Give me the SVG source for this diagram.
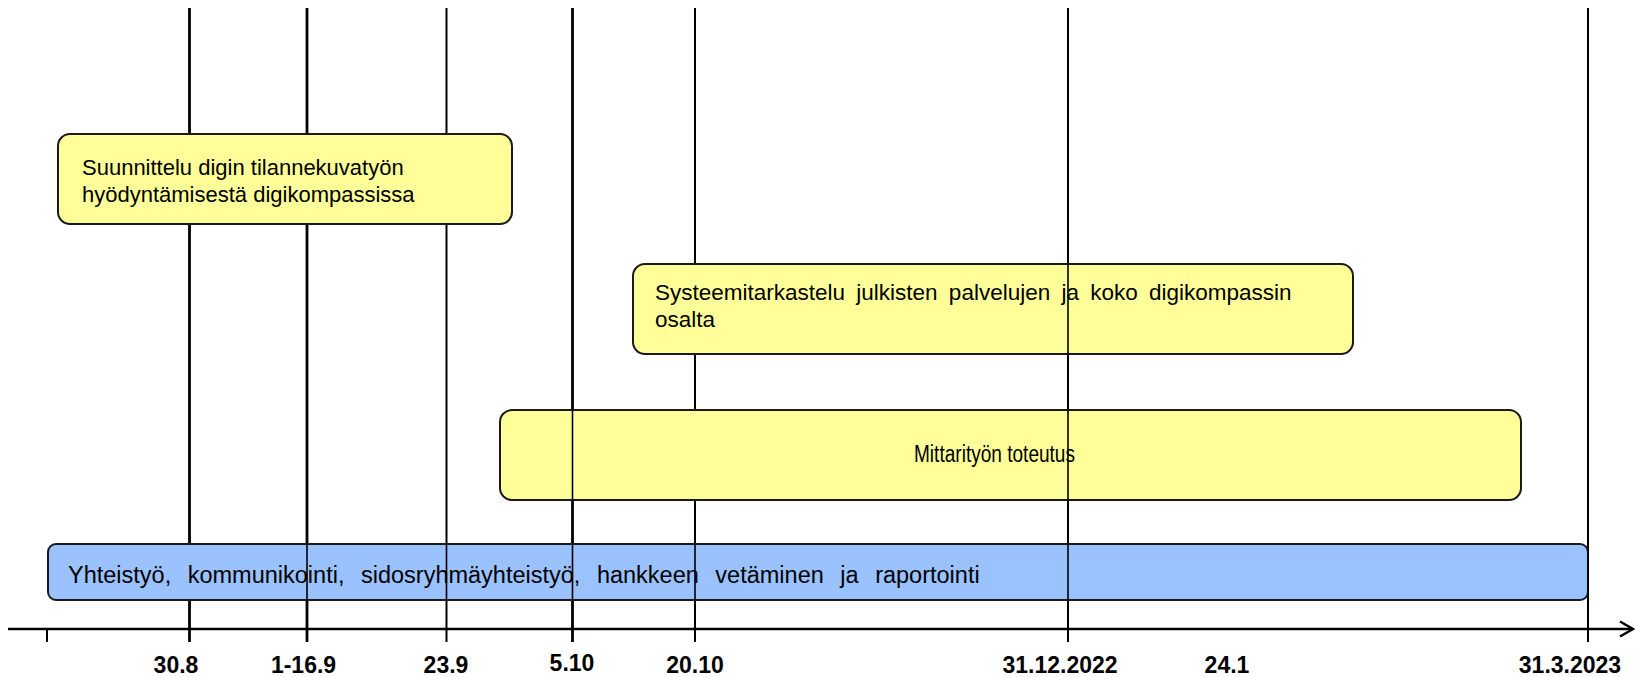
<svg xmlns="http://www.w3.org/2000/svg" width="1635" height="677" viewBox="0 0 1635 677">
<style>
.bg{fill:#ffffff}
.grid{stroke:#000;fill:none}
.thick{stroke-width:2.8}
.thin{stroke-width:2}
.over{stroke:#000;stroke-width:1.6;fill:none}
.box{stroke:#1a1a1a;stroke-width:2}
.yellow{fill:#FFFF99}
.blue{fill:#99C2FF}
.txt{font-family:"Liberation Sans",Arial,sans-serif;fill:#000}
.s22{font-size:22px}
.s225{font-size:22.5px}
.s23{font-size:23px}
.s235{font-size:23.5px}
.lbl{font-family:"Liberation Sans",Arial,sans-serif;font-size:23px;font-weight:bold;fill:#000;text-anchor:middle}
.axis{stroke:#000;stroke-width:2.5;fill:none}
</style>
<rect class="bg" x="0" y="0" width="1635" height="677"/>
<g id="connectors">
  <line class="grid thick" x1="189.5" y1="8" x2="189.5" y2="134"/>
  <line class="grid thick" x1="189.5" y1="224" x2="189.5" y2="544"/>
  <line class="grid thick" x1="189.5" y1="600" x2="189.5" y2="642"/>
  <line class="grid thick" x1="307" y1="8" x2="307" y2="134"/>
  <line class="grid thick" x1="307" y1="224" x2="307" y2="544"/>
  <line class="grid thick" x1="307" y1="600" x2="307" y2="642"/>
  <line class="grid thin" x1="446.5" y1="8" x2="446.5" y2="134"/>
  <line class="grid thin" x1="446.5" y1="224" x2="446.5" y2="544"/>
  <line class="grid thin" x1="446.5" y1="600" x2="446.5" y2="642"/>
  <line class="grid thick" x1="572.5" y1="8" x2="572.5" y2="410"/>
  <line class="grid thick" x1="572.5" y1="500" x2="572.5" y2="544"/>
  <line class="grid thick" x1="572.5" y1="600" x2="572.5" y2="642"/>
  <line class="grid thin" x1="695" y1="8" x2="695" y2="264"/>
  <line class="grid thin" x1="695" y1="354" x2="695" y2="410"/>
  <line class="grid thin" x1="695" y1="500" x2="695" y2="544"/>
  <line class="grid thin" x1="695" y1="600" x2="695" y2="642"/>
  <line class="grid thin" x1="1068" y1="8" x2="1068" y2="642"/>
  <line class="grid thin" x1="1588" y1="8" x2="1588" y2="642"/>
  <line class="grid thin" x1="47" y1="629" x2="47" y2="642"/>
  <line class="axis" x1="8" y1="629" x2="1632" y2="629"/>
  <polyline class="axis" points="1620,621.5 1633,629 1620,636.5"/>
</g>
<g id="node-suunnittelu">
  <rect class="box yellow" x="58" y="134" width="454" height="90" rx="12"/>
  <text class="txt s22" x="82" y="175">Suunnittelu digin tilannekuvatyön</text>
  <text class="txt s22" x="82" y="202">hyödyntämisestä digikompassissa</text>
</g>
<g id="node-systeemitarkastelu">
  <rect class="box yellow" x="633" y="264" width="720" height="90" rx="12"/>
  <text class="txt s225" x="655" y="300" word-spacing="5">Systeemitarkastelu julkisten palvelujen ja koko digikompassin</text>
  <text class="txt s225" x="655" y="327">osalta</text>
</g>
<g id="node-mittarityo">
  <rect class="box yellow" x="500" y="410" width="1021" height="90" rx="12"/>
  <text class="txt s23" x="914" y="462" textLength="161" lengthAdjust="spacingAndGlyphs">Mittarityön toteutus</text>
</g>
<g id="node-yhteistyo">
  <rect class="box blue" x="48" y="544" width="1540" height="56" rx="8"/>
  <text class="txt s235" x="68" y="583" word-spacing="10">Yhteistyö, kommunikointi, sidosryhmäyhteistyö, hankkeen vetäminen ja raportointi</text>
</g>
<g id="grid-overlay">
  <line class="over" x1="572.5" y1="410" x2="572.5" y2="500"/>
  <line class="over" x1="572.5" y1="544" x2="572.5" y2="600"/>
  <line class="over" x1="1068" y1="264" x2="1068" y2="354"/>
  <line class="over" x1="1068" y1="410" x2="1068" y2="500"/>
  <line class="over" x1="1068" y1="544" x2="1068" y2="600"/>
  <line class="over" x1="307" y1="544" x2="307" y2="600"/>
  <line class="over" x1="446.5" y1="544" x2="446.5" y2="600"/>
  <line class="over" x1="695" y1="544" x2="695" y2="600"/>
  <line class="over" x1="1588" y1="544" x2="1588" y2="600"/>
</g>
<g id="labels">
  <text class="lbl" x="176" y="673">30.8</text>
  <text class="lbl" x="303.5" y="673">1-16.9</text>
  <text class="lbl" x="446" y="673">23.9</text>
  <text class="lbl" x="572" y="671">5.10</text>
  <text class="lbl" x="695" y="673">20.10</text>
  <text class="lbl" x="1060" y="673">31.12.2022</text>
  <text class="lbl" x="1227" y="673">24.1</text>
  <text class="lbl" x="1570" y="673">31.3.2023</text>
</g>
</svg>
